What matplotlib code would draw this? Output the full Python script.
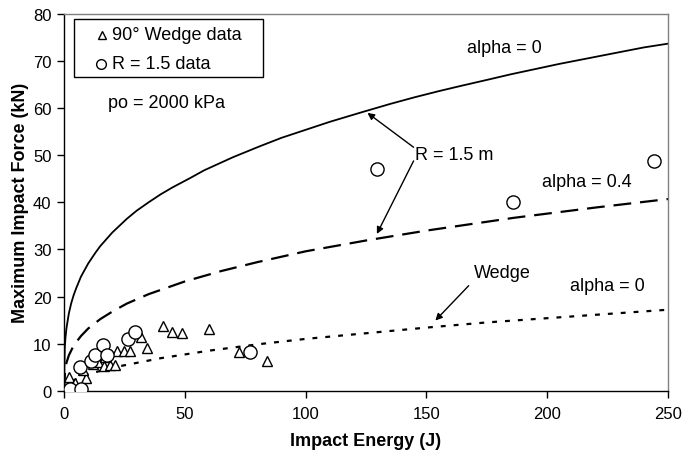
import matplotlib
matplotlib.use("Agg")
import matplotlib.pyplot as plt
from matplotlib.patches import Rectangle

plt.rcParams['font.family'] = ['Liberation Sans', 'DejaVu Sans']

# Theory curves
solid_E = [0, 0.3, 0.6, 1, 2, 3, 4, 5, 7, 10, 13, 15, 20, 26, 30, 35, 40, 45, 52, 58, 64, 70, 81, 90,
           100, 110, 123, 135, 145, 155, 164, 175, 185, 195, 205, 215, 228, 240, 250]
solid_F = [0, 9.0, 11.2, 13.2, 16.4, 18.6, 20.3, 21.7, 24.2, 27.0, 29.3, 30.7, 33.6, 36.5, 38.2, 40.0,
           41.7, 43.2, 45.1, 46.8, 48.2, 49.6, 51.9, 53.7, 55.4, 57.1, 59.1, 60.9, 62.3, 63.6, 64.7,
           66.0, 67.2, 68.3, 69.4, 70.4, 71.7, 72.9, 73.7]

dash_E = [0, 0.5, 1, 2, 4, 7, 10, 15, 20, 26, 35, 50, 65, 80, 100, 125, 150, 186, 220, 250]
dash_F = [0, 4.6, 5.9, 7.5, 9.6, 11.6, 13.2, 15.2, 16.8, 18.5, 20.5, 23.2, 25.4, 27.3, 29.6, 31.9,
          34.0, 36.7, 38.9, 40.7]

dot_E = [0, 1, 4, 10, 20, 40, 60, 81, 100, 125, 150, 175, 200, 225, 250]
dot_F = [0, 1.1, 2.2, 3.5, 4.9, 6.9, 8.5, 9.9, 11.0, 12.2, 13.4, 14.5, 15.4, 16.3, 17.2]

# Measured data
wedge_E = [2.2, 4.5, 9.0, 8.0, 12.0, 14.0, 16.5, 19.0, 21.0, 17.0, 22.0, 25.0, 27.5, 32.0, 34.5,
           41.0, 44.5, 49.0, 60.0, 72.5, 84.0]
wedge_F = [3.0, 1.6, 2.6, 4.5, 5.7, 6.0, 5.3, 5.5, 5.4, 7.2, 8.5, 8.5, 8.5, 11.5, 9.0,
           13.8, 12.4, 12.3, 13.2, 8.2, 6.4]

r15_E = [2.5, 7.0, 6.8, 11.0, 13.0, 16.0, 18.0, 26.5, 29.5, 77.0, 129.5, 186.0, 244.0]
r15_F = [0.4, 0.4, 5.0, 6.4, 7.5, 9.7, 7.5, 11.0, 12.5, 8.3, 47.0, 40.0, 48.8]

legend_labels = ['90° Wedge data', 'R = 1.5 data']
x_ticks = [0, 50, 100, 150, 200, 250]
y_ticks = [0, 10, 20, 30, 40, 50, 60, 70, 80]

fig = plt.figure(figsize=(6.84, 4.64), dpi=100)
ax = fig.add_axes([64/684, 1-391.7/464, 604/684, 376.7/464])

ax.plot(solid_E, solid_F, color='black', lw=1.3)
ax.plot(dash_E, dash_F, color='black', lw=1.6, dashes=(8, 4))
ax.plot(dot_E, dot_F, color='black', lw=1.6, dashes=(2.2, 3.6))

ax.plot(wedge_E, wedge_F, linestyle='none', marker='^', markersize=7.5,
        markerfacecolor='white', markeredgecolor='black', markeredgewidth=1.0, zorder=3)
ax.plot(r15_E, r15_F, linestyle='none', marker='o', markersize=9.5,
        markerfacecolor='white', markeredgecolor='black', markeredgewidth=1.0, zorder=3)

ax.set_xlim(0, 250)
ax.set_ylim(0, 80)
ax.set_xticks(x_ticks)
ax.set_yticks(y_ticks)
ax.tick_params(direction='out', length=5, width=1, labelsize=12, colors='black')
ax.tick_params(axis='x', pad=6)
ax.tick_params(axis='y', pad=4)
for s in ['left', 'bottom']:
    ax.spines[s].set_linewidth(1.0)
for s in ['top', 'right']:
    ax.spines[s].set_linewidth(1.0)
    ax.spines[s].set_color('#808080')

ax.set_xlabel('Impact Energy (J)', fontsize=13, fontweight='bold', labelpad=8)
ax.set_ylabel('Maximum Impact Force (kN)', fontsize=13, fontweight='bold', labelpad=3)

fs = 13
ax.text(182.3, 72.9, 'alpha = 0', fontsize=fs, ha='center', va='center')
ax.text(216.5, 44.5, 'alpha = 0.4', fontsize=fs, ha='center', va='center')
ax.text(225.1, 22.3, 'alpha = 0', fontsize=fs, ha='center', va='center')
ax.text(42.5, 61.2, 'po = 2000 kPa', fontsize=fs, ha='center', va='center')
ax.text(145.3, 50.2, 'R = 1.5 m', fontsize=fs, ha='left', va='center')
ax.text(181.3, 25.2, 'Wedge', fontsize=fs, ha='center', va='center')

arrow = dict(arrowstyle='-|>', color='black', lw=1.0, mutation_scale=10, shrinkA=0, shrinkB=0)
ax.annotate('', xy=(125.6, 59.0), xytext=(144.7, 51.7), arrowprops=arrow)
ax.annotate('', xy=(129.5, 33.3), xytext=(144.7, 48.8), arrowprops=arrow)
ax.annotate('', xy=(153.7, 14.9), xytext=(167.5, 22.3), arrowprops=arrow)

# Legend box drawn manually (axes coordinates)
ax.add_patch(Rectangle((0.0165, 0.832), 0.3125, 0.1545, transform=ax.transAxes,
                       facecolor='white', edgecolor='black', lw=1.0, zorder=5))
ax.plot([0.0624], [0.9443], transform=ax.transAxes, linestyle='none', marker='^', markersize=6,
        markerfacecolor='white', markeredgecolor='black', markeredgewidth=1.0, zorder=6)
ax.plot([0.0608], [0.8673], transform=ax.transAxes, linestyle='none', marker='o', markersize=7,
        markerfacecolor='white', markeredgecolor='black', markeredgewidth=1.0, zorder=6)
ax.text(0.0800, 0.9443, legend_labels[0], transform=ax.transAxes, fontsize=13,
        ha='left', va='center', zorder=6)
ax.text(0.0800, 0.8673, legend_labels[1], transform=ax.transAxes, fontsize=13,
        ha='left', va='center', zorder=6)

fig.savefig('out.png', dpi=100)
